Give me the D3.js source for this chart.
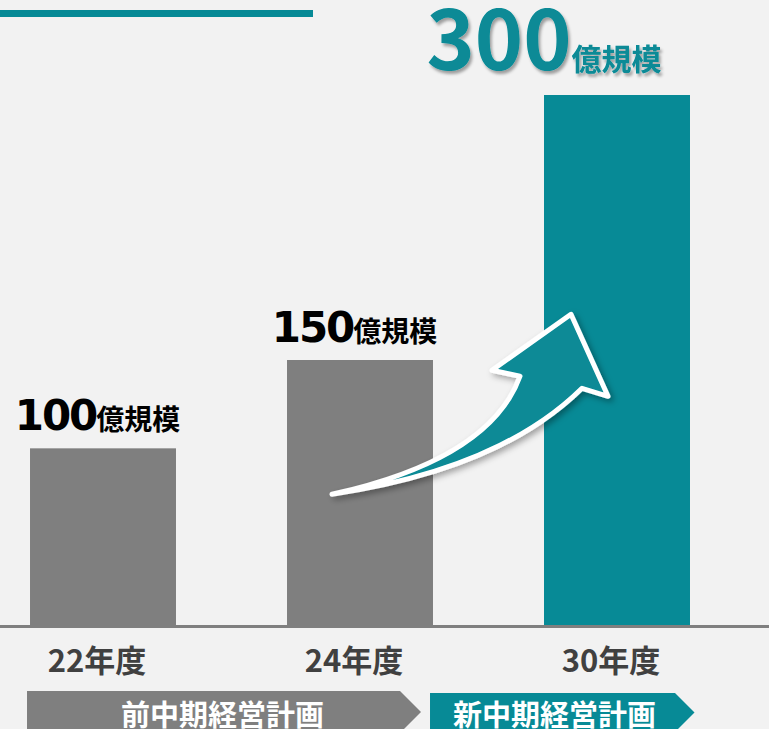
<!DOCTYPE html>
<html>
<head>
<meta charset="utf-8">
<script src="https://cdn.jsdelivr.net/npm/d3@7"></script>
<style>
  html, body { margin: 0; padding: 0; background: #f2f2f2; overflow: hidden; }
  #chart { width: 769px; height: 729px; }
</style>
</head>
<body>
<div id="chart"></div>
<script>
// data
const categories = ['22年度', '24年度', '30年度'];
const values = [100, 150, 300];
const valueLabels = ['100', '150', '300'];
const unitLabel = '億規模';
const phaseNames = ['前中期経営計画', '新中期経営計画'];
const phaseStart = ['22年度', '30年度'];
const phaseEnd = ['24年度', '30年度'];

const TEAL = '#078a96';
const GRAY = '#7f7f7f';

const width = 769;
const height = 729;

const svg = d3.select('#chart').append('svg')
    .attr('width', width)
    .attr('height', height);

const defs = svg.append('defs');
defs.append('filter').attr('id', 'textShadow')
    .attr('x', '-10%').attr('y', '-10%').attr('width', '130%').attr('height', '140%')
    .append('feDropShadow')
    .attr('dx', 2).attr('dy', 3).attr('stdDeviation', 1.5)
    .attr('flood-color', '#000').attr('flood-opacity', 0.35);
defs.append('filter').attr('id', 'arrowShadow')
    .attr('x', '-20%').attr('y', '-20%').attr('width', '150%').attr('height', '150%')
    .append('feDropShadow')
    .attr('dx', 3).attr('dy', 3).attr('stdDeviation', 3)
    .attr('flood-color', '#000').attr('flood-opacity', 0.35);

svg.append('rect').attr('width', width).attr('height', height).attr('fill', '#f2f2f2');

// scales
const x = d3.scaleBand()
    .domain(categories)
    .range([-25.5, 745.5])
    .paddingInner(0.432)
    .paddingOuter(0.216);
const y = d3.scaleLinear()
    .domain([0, 300])
    .range([625, 95]);
const bw = x.bandwidth();

// top accent line
svg.append('rect')
    .attr('x', 0).attr('y', 10)
    .attr('width', 313).attr('height', 7)
    .attr('fill', TEAL);

// bars
svg.selectAll('rect.bar')
    .data(categories)
    .join('rect')
    .attr('class', 'bar')
    .attr('x', d => x(d))
    .attr('y', (d, i) => y(values[i]))
    .attr('width', bw)
    .attr('height', (d, i) => y(0) - y(values[i]))
    .attr('fill', (d, i) => i === categories.length - 1 ? TEAL : GRAY);

// baseline
svg.append('line')
    .attr('x1', 0).attr('x2', width)
    .attr('y1', y(0) + 1.5).attr('y2', y(0) + 1.5)
    .attr('stroke', GRAY)
    .attr('stroke-width', 3);

// value labels (first two black, last one big teal)
categories.forEach((c, i) => {
    const last = i === categories.length - 1;
    const cx = x(c) + bw / 2 + (last ? -73 : -5.5);
    const t = svg.append('text')
        .attr('x', cx)
        .attr('y', y(values[i]) - (last ? 25 : 18))
        .attr('text-anchor', 'middle')
        .attr('font-weight', 'bold')
        .attr('fill', last ? TEAL : '#000');
    if (last) t.attr('filter', 'url(#textShadow)');
    t.append('tspan')
        .attr('font-family', last ? '"Noto Sans CJK JP", sans-serif' : '"DejaVu Sans", sans-serif')
        .attr('font-size', last ? 82 : 42)
        .attr('letter-spacing', last ? 0 : -2)
        .text(valueLabels[i]);
    t.append('tspan')
        .attr('font-family', '"Noto Sans CJK JP", sans-serif')
        .attr('font-size', last ? 30 : 28)
        .text(unitLabel);
});

// category labels
svg.selectAll('text.cat')
    .data(categories)
    .join('text')
    .attr('class', 'cat')
    .attr('x', d => x(d) + bw / 2 - 6)
    .attr('y', 672)
    .attr('text-anchor', 'middle')
    .attr('font-family', '"Noto Sans CJK JP", sans-serif')
    .attr('font-weight', 'bold')
    .attr('font-size', 31)
    .attr('fill', '#404040')
    .text(d => d);

// phase chevrons
phaseNames.forEach((name, i) => {
    const x0 = i === 0 ? x(phaseStart[i]) - 3 : x(phaseStart[i]) - 114;
    const x1 = i === 0 ? x(phaseEnd[i]) + bw - 33 : x(phaseEnd[i]) + bw - 15;
    const top = i === 0 ? 691 : 693;
    const h = 2 * (712 - top) + (i === 0 ? 0 : 1);
    const pts = [[x0, top], [x1, top], [x1 + h / 2, top + h / 2], [x1, top + h], [x0, top + h]];
    svg.append('path')
        .attr('d', d3.line()(pts) + 'Z')
        .attr('fill', i === 0 ? GRAY : TEAL);
    svg.append('text')
        .attr('x', (x0 + x1) / 2 + (i === 0 ? 9 : 2))
        .attr('y', 726)
        .attr('text-anchor', 'middle')
        .attr('font-family', '"Noto Sans CJK JP", sans-serif')
        .attr('font-weight', 'bold')
        .attr('font-size', 29)
        .attr('fill', '#fff')
        .text(name);
});

// growth arrow (decoration), anchored on the 24年度 bar
const ax = x('24年度') + bw / 2 - 28;
const ay = y(74);
const p = d3.path();
p.moveTo(ax, ay);
p.quadraticCurveTo(ax + 158, ay - 35, ax + 188, ay - 118);
p.lineTo(ax + 160, ay - 124);
p.lineTo(ax + 239, ay - 180);
p.lineTo(ax + 276, ay - 98);
p.lineTo(ax + 250, ay - 106);
p.quadraticCurveTo(ax + 168, ay - 25, ax, ay);
p.closePath();
svg.append('path')
    .attr('d', p.toString())
    .attr('fill', TEAL)
    .attr('stroke', '#fff')
    .attr('stroke-width', 5)
    .attr('stroke-linejoin', 'round')
    .attr('filter', 'url(#arrowShadow)');
</script>
</body>
</html>
